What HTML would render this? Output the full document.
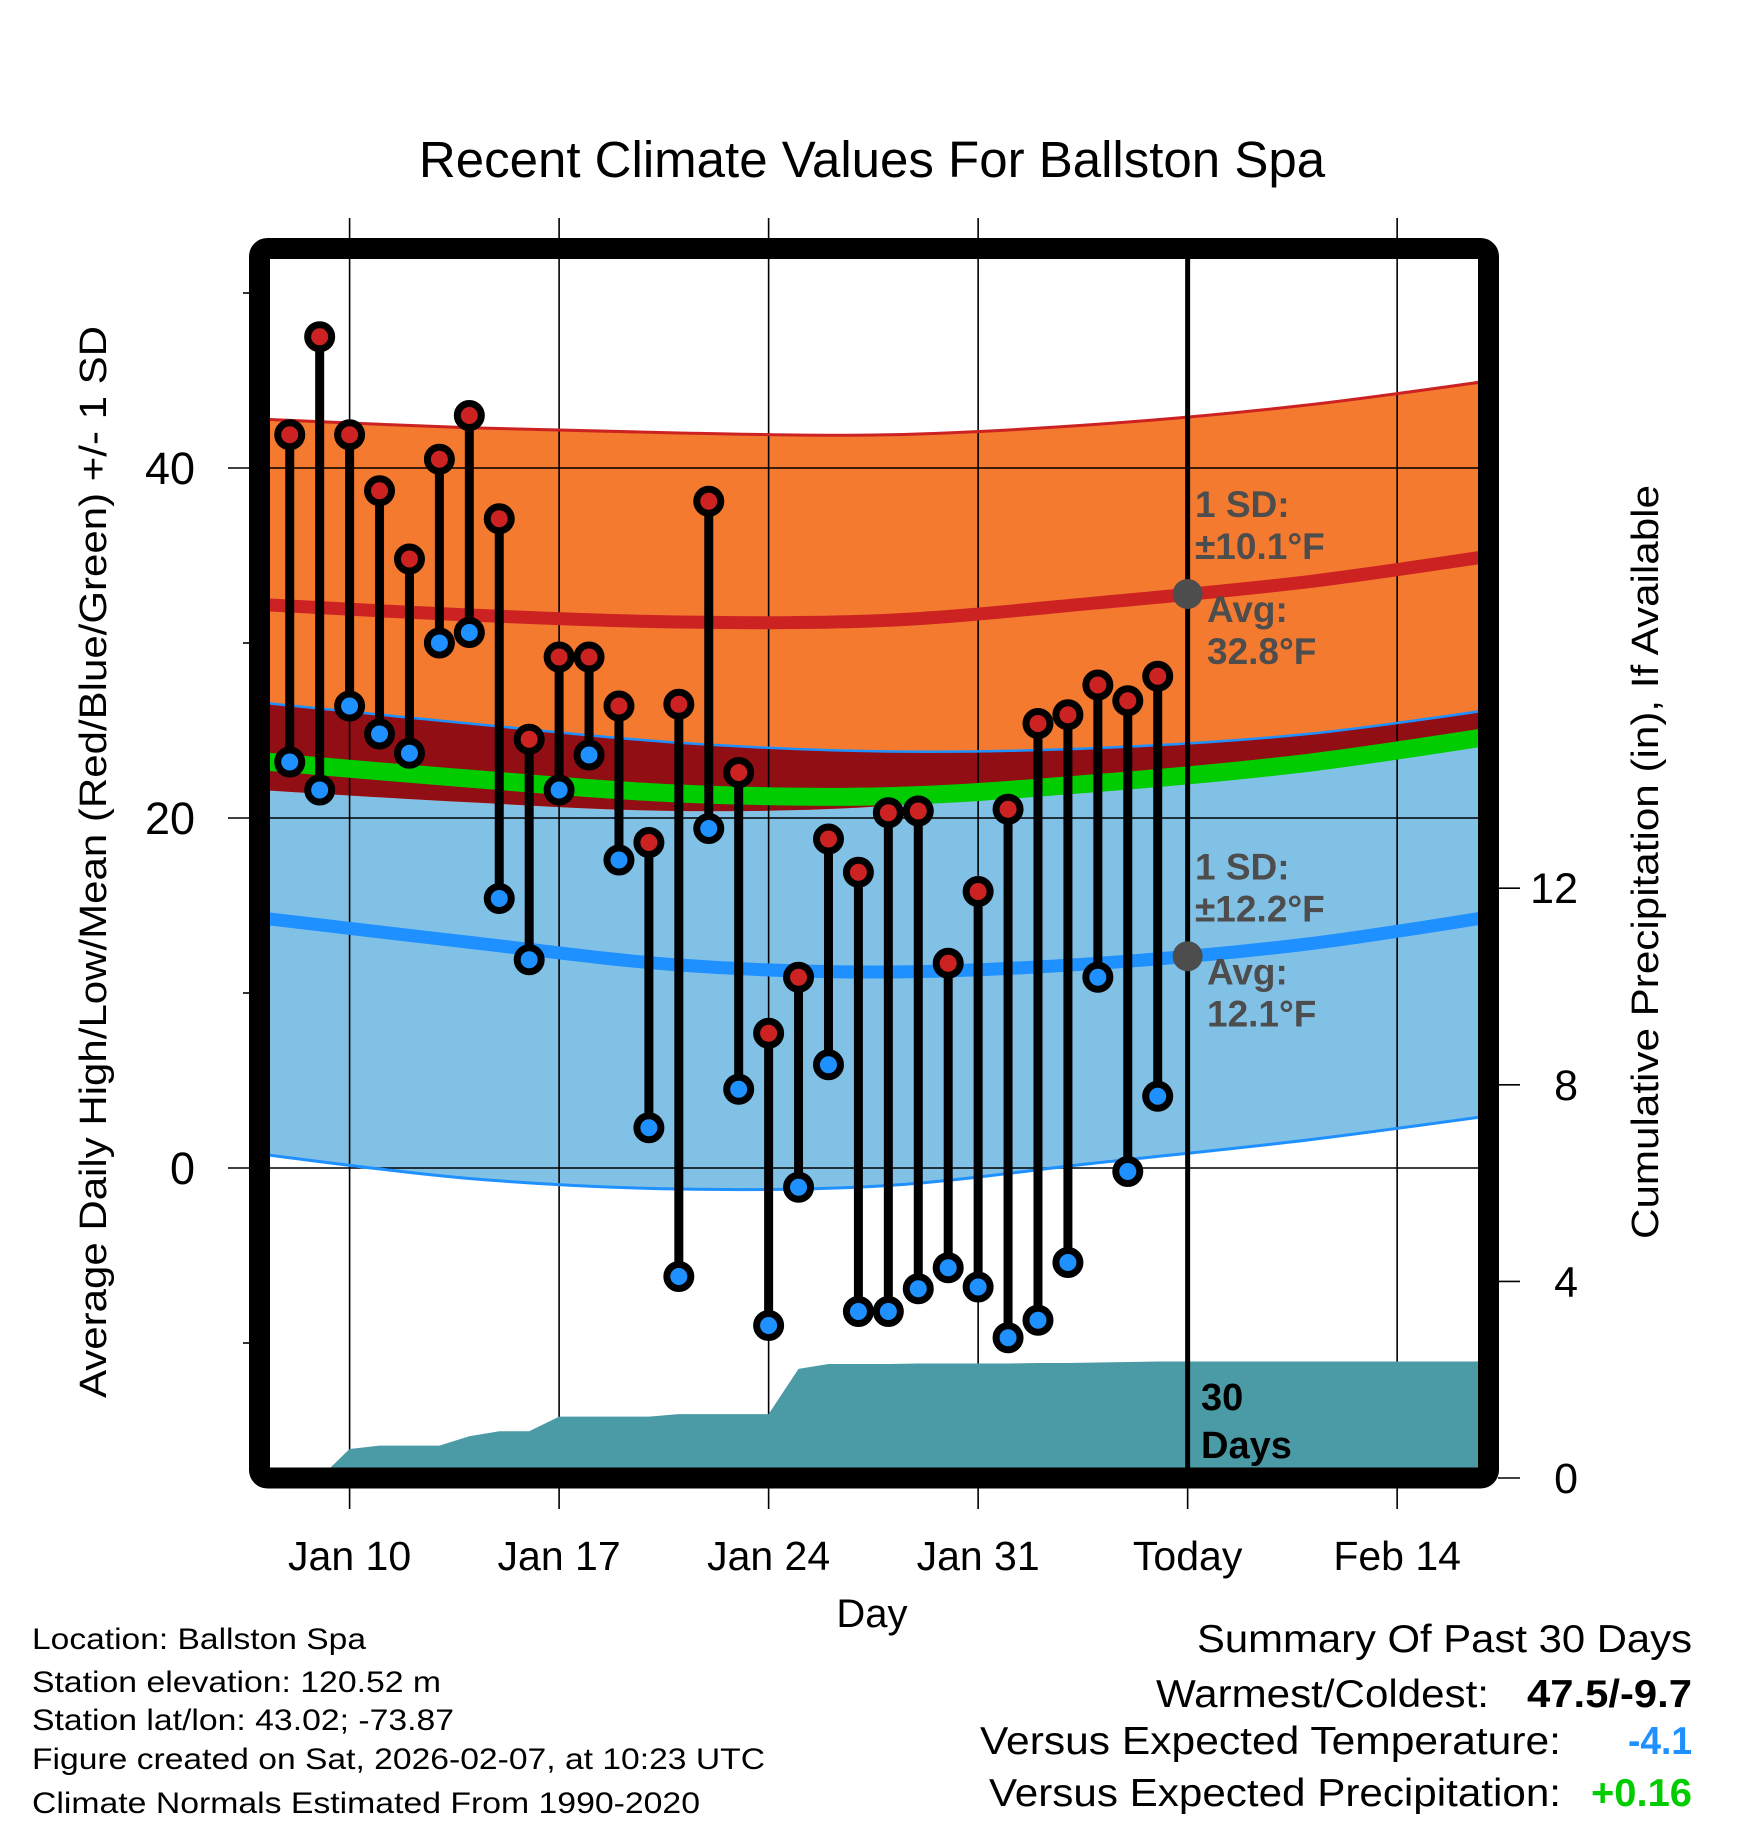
<!DOCTYPE html>
<html><head><meta charset="utf-8"><style>
html,body{margin:0;padding:0;background:#fff}
svg{display:block}
text{font-family:"Liberation Sans",Arial,sans-serif}
</style></head><body>
<svg id="chart" width="1748" height="1828" viewBox="0 0 1748 1828">
<defs><clipPath id="plotclip"><rect x="270" y="259" width="1208" height="1209"/></clipPath></defs>
<text x="872" y="177" text-anchor="middle" font-size="51">Recent Climate Values For Ballston Spa</text>
<g id="bands" clip-path="url(#plotclip)"></g>
<g id="grid"></g>
<g id="precip" clip-path="url(#plotclip)"></g>
<g id="lines" clip-path="url(#plotclip)"></g>
<g id="todayg"></g>
<g id="marks"></g>
<g id="annot"></g>
<rect x="259.5" y="248.5" width="1229" height="1229.5" rx="8" fill="none" stroke="#000" stroke-width="21"/>
<g id="axes"></g>
<text transform="translate(106,862) rotate(-90)" text-anchor="middle" font-size="38" textLength="1072" lengthAdjust="spacingAndGlyphs">Average Daily High/Low/Mean (Red/Blue/Green) +/- 1 SD</text>
<text transform="translate(1658,862) rotate(-90)" text-anchor="middle" font-size="38" textLength="754" lengthAdjust="spacingAndGlyphs">Cumulative Precipitation (in), If Available</text>
<text x="872" y="1627" text-anchor="middle" font-size="40">Day</text>
<g font-size="30">
<text x="32" y="1649" textLength="334" lengthAdjust="spacingAndGlyphs">Location: Ballston Spa</text>
<text x="32" y="1692" textLength="409" lengthAdjust="spacingAndGlyphs">Station elevation: 120.52 m</text>
<text x="32" y="1730" textLength="422" lengthAdjust="spacingAndGlyphs">Station lat/lon: 43.02; -73.87</text>
<text x="32" y="1769" textLength="733" lengthAdjust="spacingAndGlyphs">Figure created on Sat, 2026-02-07, at 10:23 UTC</text>
<text x="32" y="1813" textLength="668" lengthAdjust="spacingAndGlyphs">Climate Normals Estimated From 1990-2020</text>
</g>
<g font-size="39">
<text x="1197" y="1652" textLength="495" lengthAdjust="spacingAndGlyphs">Summary Of Past 30 Days</text>
<text x="1156" y="1707" textLength="333" lengthAdjust="spacingAndGlyphs">Warmest/Coldest:</text>
<text x="1527" y="1707" font-weight="bold" textLength="165" lengthAdjust="spacingAndGlyphs">47.5/-9.7</text>
<text x="980" y="1754" textLength="581" lengthAdjust="spacingAndGlyphs">Versus Expected Temperature:</text>
<text x="1628" y="1754" font-weight="bold" fill="#1E90FF" textLength="64" lengthAdjust="spacingAndGlyphs">-4.1</text>
<text x="989" y="1806" textLength="572" lengthAdjust="spacingAndGlyphs">Versus Expected Precipitation:</text>
<text x="1591" y="1806" font-weight="bold" fill="#00CC00" textLength="101" lengthAdjust="spacingAndGlyphs">+0.16</text>
</g>
</svg>
<script>
// Daily observations Jan 8 .. Feb 6 (day offsets relative to Jan 10)
const obsStartDay = -2;
const highs = [41.9,47.5,41.9,38.7,34.8,40.5,43.0,37.1,24.5,29.2,29.2,26.4,18.6,26.5,38.1,22.6,7.7,10.9,18.8,16.9,20.3,20.4,11.7,15.8,20.5,25.4,25.9,27.6,26.7,28.1];
const lows = [23.2,21.6,26.4,24.8,23.7,30.0,30.6,15.4,11.9,21.6,23.6,17.6,2.3,-6.2,19.4,4.5,-9.0,-1.1,5.9,-8.2,-8.2,-6.9,-5.7,-6.8,-9.7,-8.7,-5.4,10.9,-0.2,4.1];
const precipCum = [0,0,0.59,0.66,0.66,0.66,0.85,0.95,0.95,1.25,1.25,1.25,1.25,1.30,1.30,1.30,1.30,2.22,2.32,2.32,2.32,2.33,2.33,2.33,2.33,2.34,2.34,2.35,2.36,2.37];
// Climate normals at key days (offset from Jan 10)
const normDays = [-3,4,11,18,25,32,39];
const normHigh = [32.2,31.6,31.2,31.3,32.3,33.5,35.2];
const normHighSD = [10.6,10.7,10.8,10.6,10.2,10.1,10.0];
const normLow = [14.3,12.9,11.6,11.2,11.7,12.8,14.6];
const normLowSD = [12.3,12.5,12.7,12.6,12.3,12.0,11.8];
const normLowLowerSD = [13.5,13.5,12.8,12.2,11.4,11.2,11.4];
const todayDay = 28, todayHigh = 32.8, todayHighSD = 10.1, todayLow = 12.1, todayLowSD = 12.2;
const xTickDays = [0,7,14,21,28,35];
const xTickLabels = ["Jan 10","Jan 17","Jan 24","Jan 31","Today","Feb 14"];
const yTicks = [0,20,40];
const yMinorTicks = [-10,10,30,50];
const y2Ticks = [0,4,8,12];

const NS="http://www.w3.org/2000/svg";
const X = d => 349.6 + 29.93*d;
const Y = v => 1168 - 17.5*v;
const YP = p => 1478 - 49.15*p;
function mk(tag, attrs, parent){const e=document.createElementNS(NS,tag);for(const k in attrs)e.setAttribute(k,attrs[k]);parent.appendChild(e);return e;}
function smooth(pts, start){
  let s = (start?"M":"L")+pts[0][0].toFixed(1)+","+pts[0][1].toFixed(1);
  for(let i=0;i<pts.length-1;i++){
    const p0=pts[Math.max(i-1,0)],p1=pts[i],p2=pts[i+1],p3=pts[Math.min(i+2,pts.length-1)];
    const c1=[p1[0]+(p2[0]-p0[0])/6,p1[1]+(p2[1]-p0[1])/6];
    const c2=[p2[0]-(p3[0]-p1[0])/6,p2[1]-(p3[1]-p1[1])/6];
    s+=`C${c1[0].toFixed(1)},${c1[1].toFixed(1)} ${c2[0].toFixed(1)},${c2[1].toFixed(1)} ${p2[0].toFixed(1)},${p2[1].toFixed(1)}`;
  }
  return s;
}
const ptsOf = f => normDays.map((d,i)=>[X(d),Y(f(i))]);
function band(up, lo){const a=ptsOf(up), b=ptsOf(lo).reverse();return smooth(a,true)+smooth(b,false)+"Z";}

const bands=document.getElementById('bands');
let e;
e=mk('path',{d:band(i=>normLow[i]+normLowSD[i],i=>normLow[i]-normLowLowerSD[i]),fill:'#82C1E6'},bands);


e=mk('path',{d:band(i=>normHigh[i]+normHighSD[i],i=>normHigh[i]-normHighSD[i]),fill:'#F47A2F'},bands);


e=mk('path',{d:band(i=>normLow[i]+normLowSD[i],i=>normHigh[i]-normHighSD[i]),fill:'#910E14'},bands);



const grid=document.getElementById('grid');
xTickDays.forEach((d,i)=>{
  if(xTickLabels[i]==="Today")return;
  e=mk('line',{x1:X(d),x2:X(d),y1:218,y2:1509,stroke:'#000','stroke-width':1.6},grid);
  
  
});
yTicks.forEach(v=>{
  e=mk('line',{x1:228,x2:1478,y1:Y(v),y2:Y(v),stroke:'#000','stroke-width':1.6},grid);
  
  
});

const pr=document.getElementById('precip');
let pd=`M${X(obsStartDay)},${YP(0)}`;
precipCum.forEach((p,i)=>{pd+=`L${X(obsStartDay+i).toFixed(1)},${YP(p).toFixed(1)}`;});
pd+=`L1480,${YP(precipCum[precipCum.length-1]).toFixed(1)}L1480,1480L${X(obsStartDay)},1480Z`;
e=mk('path',{d:pd,fill:'#4A9BA5'},pr);



const lines=document.getElementById('lines');
function curve(f,color,w,name){
  e=mk('path',{d:smooth(ptsOf(f),true),fill:'none',stroke:color,'stroke-width':w},lines);
  
  
}
curve(i=>normHigh[i]+normHighSD[i],'#CC2222',3,'high-upper-sd-line');
curve(i=>normLow[i]+normLowSD[i],'#1E90FF',2.5,'low-upper-sd-line');
curve(i=>normLow[i]-normLowLowerSD[i],'#1E90FF',3,'low-lower-sd-line');
curve(i=>(normHigh[i]+normLow[i])/2,'#00CC00',18,'mean-line');
curve(i=>normHigh[i],'#CC2222',13,'normal-high-line');
curve(i=>normLow[i],'#1E90FF',13,'normal-low-line');

// today line
e=mk('line',{x1:X(todayDay),x2:X(todayDay),y1:259,y2:1468,stroke:'#000','stroke-width':5},document.getElementById('todayg'));



const marks=document.getElementById('marks');
highs.forEach((h,i)=>{
  const x=X(obsStartDay+i);
  e=mk('line',{x1:x,x2:x,y1:Y(h),y2:Y(lows[i]),stroke:'#000','stroke-width':9},marks);
  
  
});
highs.forEach((h,i)=>{
  const x=X(obsStartDay+i);
  e=mk('circle',{cx:x,cy:Y(h),r:12,fill:'#CC2222',stroke:'#000','stroke-width':7},marks);
  
  
  e=mk('circle',{cx:x,cy:Y(lows[i]),r:12,fill:'#1E90FF',stroke:'#000','stroke-width':7},marks);
  
  
});

const an=document.getElementById('annot');
function ann(avg,sd,name){
  const cy=Y(avg);
  e=mk('circle',{cx:X(todayDay),cy:cy,r:15,fill:'#4D4D4D'},an);
  
  
  const lines=[["1 SD:",1195,cy-77],["\u00B1"+sd.toFixed(1)+"\u00B0F",1195,cy-35],["Avg:",1207,cy+28],[avg.toFixed(1)+"\u00B0F",1207,cy+70]];
  lines.forEach(l=>{
    e=mk('text',{x:l[1],y:l[2],'font-size':37,'font-weight':'bold',fill:'#4D4D4D'},an);
    e.textContent=l[0];
    
    
  });
}
ann(todayHigh,todayHighSD,'high');
ann(todayLow,todayLowSD,'low');
e=mk('text',{x:1201,y:1410,'font-size':38,'font-weight':'bold'},an);e.textContent="30";


e=mk('text',{x:1201,y:1458,'font-size':38,'font-weight':'bold'},an);e.textContent="Days";



const ax=document.getElementById('axes');
yTicks.forEach(v=>{
  e=mk('text',{x:195,y:Y(v)+16,'text-anchor':'end','font-size':45},ax);e.textContent=v;
  
  
});
yMinorTicks.forEach(v=>{
  e=mk('line',{x1:243,x2:250,y1:Y(v),y2:Y(v),stroke:'#000','stroke-width':1.6},ax);
  
  
});
y2Ticks.forEach(p=>{
  e=mk('line',{x1:1498,x2:1520,y1:YP(p),y2:YP(p),stroke:'#000','stroke-width':1.6},ax);
  
  
  e=mk('text',{x:1578,y:YP(p)+15,'text-anchor':'end','font-size':43},ax);e.textContent=p;
  
  
});
xTickDays.forEach((d,i)=>{
  if(xTickLabels[i]==="Today"){
    e=mk('line',{x1:X(d),x2:X(d),y1:1488,y2:1509,stroke:'#000','stroke-width':1.6},ax);
    
    
  }
  e=mk('text',{x:X(d),y:1570,'text-anchor':'middle','font-size':41},ax);e.textContent=xTickLabels[i];
  
  
});
</script>
</body></html>
